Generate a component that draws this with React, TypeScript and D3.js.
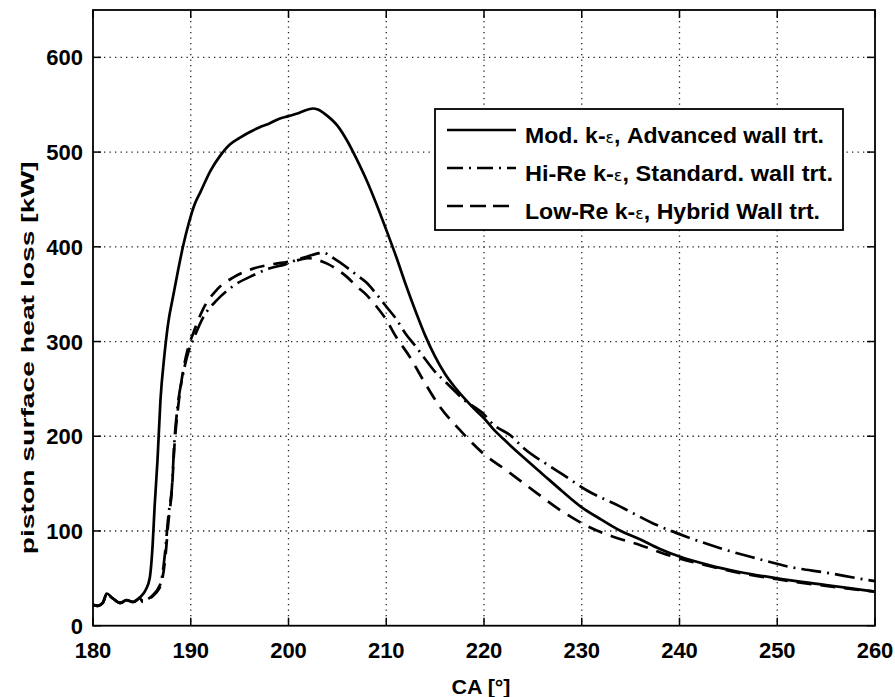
import React from "react";
import * as d3 from "d3";

// Crank angle (deg) and piston surface heat loss (kW) for each model
const modCA = [180, 180.5, 181, 181.4, 182, 182.8, 183.4, 184.1, 184.8, 185.4, 185.8, 186.1, 186.3, 186.6, 186.9, 187.3, 187.7, 188.2, 188.7, 189.2, 189.8, 190.4, 191, 192, 193, 194, 195, 196, 197, 198, 199, 200, 201, 202, 202.5, 203, 204, 205, 206, 207, 208, 209, 210, 211, 212, 213, 214, 215, 216, 217, 218, 219, 220, 221, 222, 224, 226, 228, 230, 232, 234, 236, 238, 240, 243, 246, 250, 255, 260];
const modQ = [22, 21, 24, 34, 29, 24, 27, 25, 30, 38, 50, 85, 125, 175, 238, 285, 320, 348, 375, 400, 425, 445, 458, 480, 496, 508, 515, 521, 526, 530, 535, 538, 541, 545, 546, 545, 538, 528, 512, 492, 470, 445, 418, 390, 360, 332, 306, 284, 266, 252, 240, 229, 219, 207, 197, 178, 160, 142, 125, 112, 100, 91, 81, 73, 64, 57, 50, 43, 36];

const hiCA = [180, 180.5, 181, 181.4, 182, 182.8, 183.4, 184.1, 184.8, 185.1, 185.6, 186.2, 186.7, 187, 187.4, 187.7, 188.1, 188.3, 188.7, 189.2, 189.7, 190.3, 191.3, 192.7, 194.4, 196.4, 198, 199.8, 201, 202, 203, 203.5, 204.6, 206, 207, 208, 209, 210, 211, 212, 213, 213.8, 215, 216.2, 218, 219.9, 221, 222.7, 224, 226.8, 228, 230.5, 233.9, 237.3, 240.7, 244.1, 247.9, 251.3, 255, 258.8, 260];
const hiQ = [22, 21, 24, 33, 29, 24, 27, 25, 29, 26, 28, 33, 40, 48, 80, 115, 150, 190, 235, 265, 287, 303, 326, 344, 359, 370, 377, 382, 387, 390, 393, 394, 388, 378, 370, 362, 350, 337, 324, 308, 295, 284, 268, 256, 238, 224, 212, 201, 188, 168, 160, 143, 126, 108, 94, 82, 71, 62, 56, 49, 47];

const lowCA = [180, 180.5, 181, 181.4, 182, 182.8, 183.4, 184.1, 184.8, 185.1, 185.6, 186.2, 186.7, 187, 187.4, 187.7, 188.1, 188.3, 188.7, 189.2, 189.7, 190.3, 191.3, 192.7, 194.4, 196.4, 198, 199.8, 201, 202, 203, 204, 205, 206, 207, 208, 209, 210, 211, 212.4, 213.8, 215.5, 217.5, 219.9, 222.3, 225.4, 227.8, 230.8, 233.2, 236, 238.7, 240, 243, 246, 250, 255, 260];
const lowQ = [22, 21, 24, 33, 29, 24, 27, 25, 29, 25, 27, 32, 38, 45, 72, 108, 148, 185, 230, 268, 292, 310, 335, 355, 368, 377, 381, 384, 386, 388, 386, 382, 376, 368, 358, 349, 337, 323, 305, 284, 259, 231, 207, 182, 164, 140, 122, 104, 94, 85, 75, 71, 63, 56, 49, 42, 36];

const xTicks = [180, 190, 200, 210, 220, 230, 240, 250, 260];
const yTicks = [0, 100, 200, 300, 400, 500, 600];

const seriesNames = [
  ["Mod. k-", ", Advanced wall trt."],
  ["Hi-Re k-", ", Standard. wall trt."],
  ["Low-Re k-", ", Hybrid Wall trt."],
];

const W = 895;
const H = 697;
const FONT = "'Liberation Sans', Arial, Helvetica, sans-serif";

export default function App() {
  const x = d3.scaleLinear().domain([180, 260]).range([93, 875]);
  const y = d3.scaleLinear().domain([0, 650]).range([625.7, 10]);
  const [x0, x1] = x.range();
  const [yb, yt] = y.range();

  const line = d3
    .line<[number, number]>()
    .x((d) => x(d[0]))
    .y((d) => y(d[1]))
    .curve(d3.curveMonotoneX);

  const zip = (a: number[], b: number[]) => a.map((v, i) => [v, b[i]] as [number, number]);

  const series = [
    { pts: zip(modCA, modQ), dash: "none" },
    { pts: zip(hiCA, hiQ), dash: "20,6,2,6" },
    { pts: zip(lowCA, lowQ), dash: "15,9" },
  ];

  const legendDash = ["none", "16,6,2,6", "16,7"];
  const legendTextLen = [299, 308, 295];
  const legendRowY = [130, 168, 206];

  return (
    <svg
      width={W}
      height={H}
      style={{ position: "absolute", left: 0, top: 0, background: "#fff" }}
      fontFamily={FONT}
    >
      <rect x={0} y={0} width={W} height={H} fill="#fff" />
      {/* grid */}
      <g stroke="#222" strokeWidth={1.3} strokeDasharray="1.3,4.2">
        {xTicks.slice(1, -1).map((t) => (
          <line key={"gx" + t} x1={x(t)} x2={x(t)} y1={yt} y2={yb} />
        ))}
        {yTicks.slice(1).map((t) => (
          <line key={"gy" + t} x1={x0} x2={x1} y1={y(t)} y2={y(t)} />
        ))}
      </g>
      {/* ticks on all four sides */}
      <g stroke="#000" strokeWidth={1.5}>
        {xTicks.map((t) => (
          <g key={"tx" + t}>
            <line x1={x(t)} x2={x(t)} y1={yb} y2={yb - 8} />
            <line x1={x(t)} x2={x(t)} y1={yt} y2={yt + 8} />
          </g>
        ))}
        {yTicks.map((t) => (
          <g key={"ty" + t}>
            <line x1={x0} x2={x0 + 8} y1={y(t)} y2={y(t)} />
            <line x1={x1} x2={x1 - 8} y1={y(t)} y2={y(t)} />
          </g>
        ))}
      </g>
      {/* curves */}
      <g fill="none" stroke="#000" strokeWidth={2.7} strokeLinejoin="round">
        {series.map((s, i) => (
          <path key={"s" + i} d={line(s.pts) || ""} strokeDasharray={s.dash} />
        ))}
      </g>
      {/* axes box */}
      <rect x={x0} y={yt} width={x1 - x0} height={yb - yt} fill="none" stroke="#000" strokeWidth={1.8} />
      {/* tick labels */}
      <g fontSize={22} fontWeight="bold" fill="#000">
        {xTicks.map((t) => (
          <text key={"lx" + t} x={x(t)} y={658} textAnchor="middle">
            {t}
          </text>
        ))}
        {yTicks.map((t) => (
          <text key={"ly" + t} x={83} y={y(t) + 8} textAnchor="end">
            {t}
          </text>
        ))}
      </g>
      {/* axis titles */}
      <text x={481} y={694} textAnchor="middle" fontSize={20} fontWeight="bold" textLength={59} lengthAdjust="spacingAndGlyphs">
        CA [°]
      </text>
      <text
        transform={`translate(34,${(yt + yb) / 2 + 40}) rotate(-90)`}
        textAnchor="middle"
        fontSize={18}
        fontWeight="bold"
        textLength={393}
        lengthAdjust="spacingAndGlyphs"
      >
        piston surface heat loss [kW]
      </text>
      {/* legend */}
      <rect x={435} y={109} width={408} height={121} fill="#fff" stroke="#000" strokeWidth={1.8} />
      {seriesNames.map((nm, i) => (
        <g key={"lg" + i}>
          <line
            x1={447}
            x2={516}
            y1={legendRowY[i]}
            y2={legendRowY[i]}
            stroke="#000"
            strokeWidth={2.7}
            strokeDasharray={legendDash[i]}
          />
          <text
            x={525}
            y={legendRowY[i] + 13}
            fontSize={22}
            fontWeight="bold"
            textLength={legendTextLen[i]}
            lengthAdjust="spacingAndGlyphs"
          >
            {nm[0]}
            <tspan fontSize={15} fontWeight="normal" fontFamily="'DejaVu Sans', sans-serif">ε</tspan>
            {nm[1]}
          </text>
        </g>
      ))}
    </svg>
  );
}
